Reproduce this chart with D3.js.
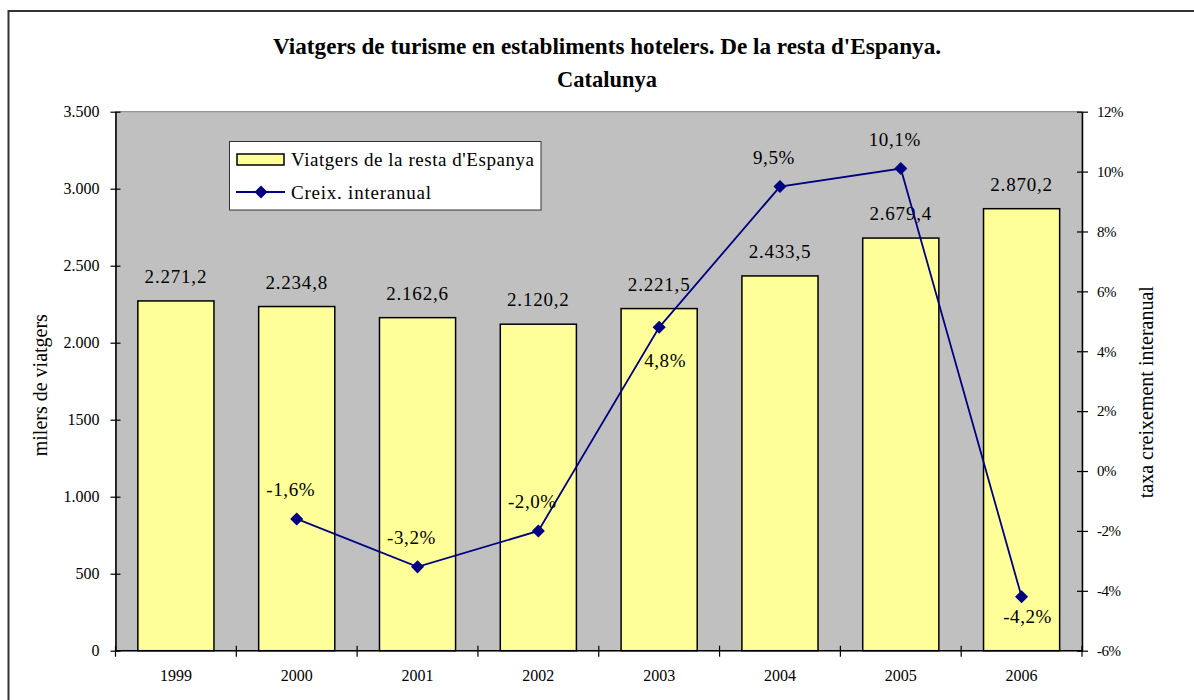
<!DOCTYPE html>
<html><head><meta charset="utf-8">
<script src="https://cdn.jsdelivr.net/npm/d3@7"></script>
<style>body{margin:0;background:#fff}svg{display:block}text{font-family:"Liberation Serif","Times New Roman",serif;fill:#000}</style>
</head><body><svg id="c" width="1194" height="700"></svg>
<script>
const years = ["1999","2000","2001","2002","2003","2004","2005","2006"];
const visitors = [2271.2, 2234.8, 2162.6, 2120.2, 2221.5, 2433.5, 2679.4, 2870.2];
const growth = [null, -1.6, -3.2, -2.0, 4.8, 9.5, 10.1, -4.2];
const growthLabelPos = [null, "above", "above", "above", "below", "above", "above", "below"];
const leftTicks = [0, 500, 1000, 1500, 2000, 2500, 3000, 3500];
const leftTickLabels = ["0","500","1.000","1500","2.000","2.500","3.000","3.500"];
const rightTicks = [-6,-4,-2,0,2,4,6,8,10,12];

const svg = d3.select("#c");
const L = 115.5, R = 1082, T = 111.7, B = 650.7;
const SERIF = "Liberation Serif, Times New Roman, serif";

svg.append("rect").attr("x",8.5).attr("y",11).attr("width",1200).attr("height",720)
  .attr("fill","#fff").attr("stroke","#333").attr("stroke-width",2);

svg.append("text").attr("x",607).attr("y",54).attr("text-anchor","middle")
  .style("font-size","23px").style("font-weight","bold")
  .attr("textLength",668).attr("lengthAdjust","spacingAndGlyphs")
  .text("Viatgers de turisme en establiments hotelers. De la resta d'Espanya.");
svg.append("text").attr("x",607).attr("y",87).attr("text-anchor","middle")
  .style("font-size","23px").style("font-weight","bold")
  .attr("textLength",100).attr("lengthAdjust","spacingAndGlyphs")
  .text("Catalunya");

const x = d3.scaleBand().domain(years).range([L,R]).paddingInner(0.37).paddingOuter(0.185);
const xc = d3.scaleBand().domain(years).range([L,R]);
const y = d3.scaleLinear().domain([0,3500]).range([B,T]);
const y2 = d3.scaleLinear().domain([-6,12]).range([B,T]);

svg.append("rect").attr("x",L).attr("y",T).attr("width",R-L).attr("height",B-T)
  .attr("fill","#c0c0c0").attr("stroke","#808080").attr("stroke-width",1);

svg.selectAll("rect.bar").data(visitors).join("rect").attr("class","bar")
  .attr("x",(d,i)=>x(years[i])).attr("width",x.bandwidth())
  .attr("y",d=>y(d)).attr("height",d=>B-y(d))
  .attr("fill","#ffff99").attr("stroke","#000").attr("stroke-width",1.5);

const fmt = d=>d3.format(",.1f")(d).replace(/,/g,"#").replace(".",",").replace(/#/g,".");
svg.selectAll("text.bl").data(visitors).join("text").attr("class","bl")
  .attr("x",(d,i)=>x(years[i])+x.bandwidth()/2).attr("y",d=>y(d)-18)
  .attr("text-anchor","middle").style("font-size","19px").style("letter-spacing","0.8px").text(fmt);

// left axis
const ax = svg.append("g").attr("transform",`translate(${L},0)`)
  .call(d3.axisLeft(y).tickValues(leftTicks).tickSize(0).tickPadding(16).tickFormat((d,i)=>leftTickLabels[i]));
ax.select(".domain").attr("stroke","#000").attr("stroke-width",1.5);
ax.selectAll(".tick text").style("font-size","16px").style("font-family",SERIF);
ax.selectAll(".tick").append("line").attr("x1",-5).attr("x2",5).attr("stroke","#000").attr("stroke-width",1.2);

// right axis
const ar = svg.append("g").attr("transform",`translate(${R},0)`)
  .call(d3.axisRight(y2).tickValues(rightTicks).tickSize(0).tickPadding(15).tickFormat(d=>String(d).replace("\u2212","-")+"%"));
ar.select(".domain").attr("stroke","#000").attr("stroke-width",1.5);
ar.selectAll(".tick text").style("font-size","15px").style("font-family",SERIF).style("letter-spacing","-0.5px");
ar.selectAll(".tick").append("line").attr("x1",-5).attr("x2",6).attr("stroke","#000").attr("stroke-width",1.2);

// bottom axis
const abx = svg.append("g").attr("transform",`translate(0,${B})`);
abx.append("line").attr("x1",L).attr("x2",R).attr("stroke","#000").attr("stroke-width",1.5);
const bounds = years.map(d=>xc(d)).concat([R]);
abx.selectAll("line.t").data(bounds).join("line").attr("class","t")
  .attr("x1",d=>d).attr("x2",d=>d).attr("y1",-5).attr("y2",6).attr("stroke","#000").attr("stroke-width",1.2);
abx.selectAll("text").data(years).join("text")
  .attr("x",d=>xc(d)+xc.bandwidth()/2).attr("y",30).attr("text-anchor","middle")
  .style("font-size","16px").text(d=>d);

// axis titles
svg.append("text").attr("transform",`translate(47,${(T+B)/2+4}) rotate(-90)`).attr("text-anchor","middle")
  .style("font-size","20px").text("milers de viatgers");
svg.append("text").attr("transform",`translate(1153,${(T+B)/2+11}) rotate(-90)`).attr("text-anchor","middle")
  .style("font-size","20px").text("taxa creixement interanual");

// line
const pts = growth.map((g,i)=>({g,i})).filter(d=>d.g!==null);
const cx = i=>xc(years[i])+xc.bandwidth()/2;
svg.append("path").datum(pts)
  .attr("d",d3.line().x(d=>cx(d.i)).y(d=>y2(d.g)))
  .attr("fill","none").attr("stroke","#000080").attr("stroke-width",1.8);
const marker = d3.symbol(d3.symbolSquare,85);
svg.selectAll("path.mk").data(pts).join("path").attr("class","mk")
  .attr("d",marker)
  .attr("transform",d=>`translate(${cx(d.i)},${y2(d.g)}) rotate(45)`)
  .attr("fill","#000080");
svg.selectAll("text.gl").data(pts).join("text").attr("class","gl")
  .attr("x",d=>cx(d.i)+(growthLabelPos[d.i]==="above"? -6 : 6))
  .attr("y",d=>growthLabelPos[d.i]==="above"? y2(d.g)-23 : y2(d.g)+(d.g>0?40:26))
  .attr("text-anchor","middle").style("font-size","19px").style("letter-spacing","0.6px")
  .text(d=>d3.format(".1f")(d.g).replace("\u2212","-").replace(".",",")+"%");

// legend
const lg = svg.append("g");
lg.append("rect").attr("x",229.5).attr("y",141.5).attr("width",311.5).attr("height",68.5)
  .attr("fill","#fff").attr("stroke","#333").attr("stroke-width",1);
lg.append("rect").attr("x",237).attr("y",154).attr("width",47).attr("height",11)
  .attr("fill","#ffff99").attr("stroke","#000").attr("stroke-width",1.5);
lg.append("text").attr("x",291).attr("y",166).style("font-size","19px")
  .attr("textLength",243).attr("lengthAdjust","spacing").text("Viatgers de la resta d'Espanya");
lg.append("line").attr("x1",236).attr("x2",285).attr("y1",192).attr("y2",192).attr("stroke","#000080").attr("stroke-width",1.8);
lg.append("path").attr("d",marker).attr("transform","translate(261,192) rotate(45)").attr("fill","#000080");
lg.append("text").attr("x",291).attr("y",199).style("font-size","19px")
  .attr("textLength",140).attr("lengthAdjust","spacing").text("Creix. interanual");
</script></body></html>
